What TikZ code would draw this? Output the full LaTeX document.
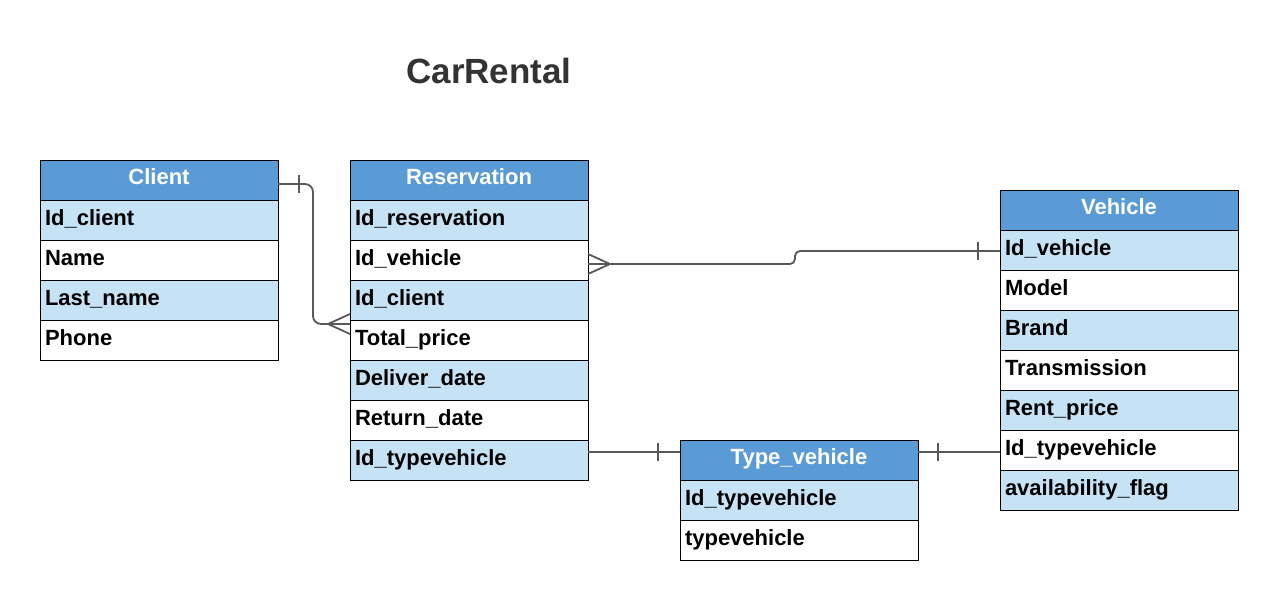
\documentclass[tikz,border=0pt]{standalone}
\usepackage{fontspec}
\setmainfont{Liberation Sans}
\begin{document}
\begin{tikzpicture}[x=1pt,y=-1pt]
\definecolor{hdrblue}{RGB}{90,155,213}
\definecolor{rowlight}{RGB}{197,227,245}
\definecolor{conngray}{RGB}{89,89,89}
\definecolor{titlegray}{RGB}{51,51,51}
\tikzset{
  cell/.style={draw=black, line width=0.8pt, anchor=north west, outer sep=0pt,
    minimum width=238pt, minimum height=40pt, inner xsep=5pt, inner ysep=0pt,
    text width=228pt, text height=15pt, text depth=5pt,
    font=\fontsize{22}{26}\selectfont\bfseries},
  hdr/.style={cell, fill=hdrblue, text=white, align=center, text height=14pt, text depth=6pt},
  rowcell/.style={cell, align=left, text=black},
  conn/.style={draw=conngray, line width=1.8pt},
}
\newcommand\ertable[5]{%
  \node[hdr] (#1-0) at (#2,#3) {#4};
  \foreach \t [count=\i] in {#5} {%
    \ifodd\i\def\fc{rowlight}\else\def\fc{white}\fi
    \node[rowcell, fill=\fc] (#1-\i) at (#2,{#3+40*\i}) {\t};
  }%
}
\useasboundingbox[fill=white] (0,0) rectangle (1279,600);

\node[font=\fontsize{35}{40}\selectfont\bfseries, text=titlegray] (title) at (489,71) {CarRental};

\ertable{client}{40}{160}{Client}{Id\_client,Name,Last\_name,Phone}
\ertable{res}{350}{160}{Reservation}{Id\_reservation,Id\_vehicle,Id\_client,Total\_price,Deliver\_date,Return\_date,Id\_typevehicle}
\ertable{veh}{1000}{190}{Vehicle}{Id\_vehicle,Model,Brand,Transmission,Rent\_price,Id\_typevehicle,availability\_flag}
\ertable{type}{680}{440}{Type\_vehicle}{Id\_typevehicle,typevehicle}

% Client -- Reservation
\coordinate (c1) at ([yshift=-4pt]client-0.east);
\coordinate (c2) at ([yshift=16pt]res-4.west);
\draw[conn, rounded corners=8pt] (c1) -| ([xshift=-37pt]c2) -- (c2);
\draw[conn] ([xshift=21pt,yshift=9pt]c1) -- ([xshift=21pt,yshift=-9pt]c1);
\draw[conn] ([yshift=10pt]c2) -- ([xshift=-22pt]c2) -- ([yshift=-10pt]c2);

% Reservation -- Vehicle
\coordinate (r1) at ([yshift=-4pt]res-2.east);
\coordinate (v1) at ([yshift=-1pt]veh-1.west);
\coordinate (j1) at (795,264);
\coordinate (j2) at (795,251);
\draw[conn, rounded corners=5pt] (r1) -- (j1) -- (j2) -- (v1);
\draw[conn] ([yshift=10pt]r1) -- ([xshift=22pt]r1) -- ([yshift=-10pt]r1);
\draw[conn] ([xshift=-22pt,yshift=9pt]v1) -- ([xshift=-22pt,yshift=-9pt]v1);

% Reservation -- Type_vehicle
\coordinate (r2) at ([yshift=8pt]res-7.east);
\coordinate (t1) at ([yshift=8pt]type-0.west);
\draw[conn] (r2) -- (t1);
\draw[conn] ([xshift=-22pt,yshift=9pt]t1) -- ([xshift=-22pt,yshift=-9pt]t1);

% Type_vehicle -- Vehicle
\coordinate (t2) at ([yshift=8pt]type-0.east);
\coordinate (v2) at ([yshift=-2pt]veh-6.west);
\draw[conn] (t2) -- (v2);
\draw[conn] ([xshift=20pt,yshift=9pt]t2) -- ([xshift=20pt,yshift=-9pt]t2);
\end{tikzpicture}
\end{document}
